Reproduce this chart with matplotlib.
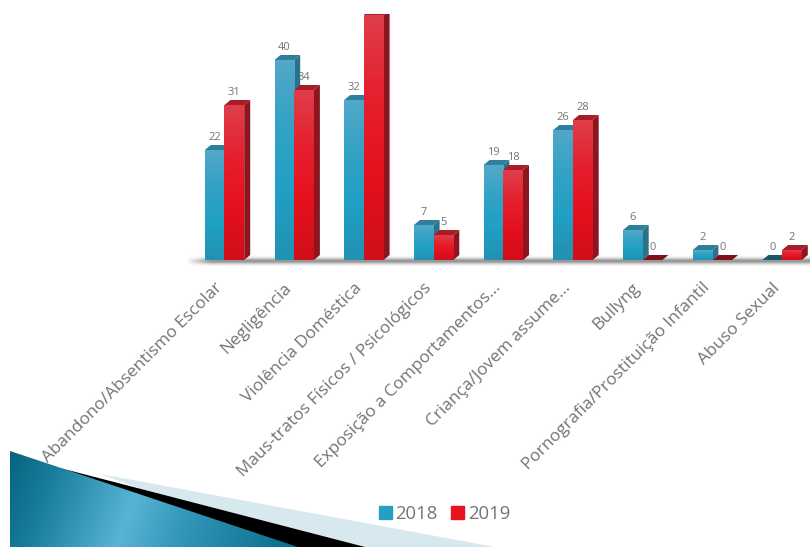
import matplotlib
matplotlib.use("Agg")
import matplotlib.pyplot as plt
import numpy as np
from matplotlib.colors import LinearSegmentedColormap
from matplotlib.patches import Patch, Polygon

categories = [
    "Abandono/Absentismo Escolar",
    "Negligência",
    "Violência Doméstica",
    "Maus-tratos Físicos / Psicológicos",
    "Exposição a Comportamentos...",
    "Criança/Jovem assume...",
    "Bullyng",
    "Pornografia/Prostituição Infantil",
    "Abuso Sexual",
]
years = ["2018", "2019"]
values_2018 = [22, 40, 32, 7, 19, 26, 6, 2, 0]
values_2019 = [31, 34, 49, 5, 18, 28, 0, 0, 2]

W, H = 810, 547
BASE_PX = 260      # row of the zero line
TOP_PX = 14        # the plot is cut off above this row
PX_PER_UNIT = 5.0
GROUP_PX = 69.7
FIRST_PX = 224.5   # centre of the first group
BAR_PX = 19.7
DX_PX, DY_PX = 6, 5

blue_cmap = LinearSegmentedColormap.from_list("b", ["#52A8C8", "#33A2C4", "#1FA0C4", "#2391B2"])
red_cmap = LinearSegmentedColormap.from_list("r", ["#DF3E4B", "#E5202E", "#E5101E", "#CF0F1A"])
styles = [
    {"cmap": blue_cmap, "side": "#2A7189", "top": "#2F7F9A", "flat": "#1C5566"},
    {"cmap": red_cmap, "side": "#8C1620", "top": "#A81C28", "flat": "#7E1018"},
]
TEXT = "#747474"

fig = plt.figure(figsize=(W / 100, H / 100), dpi=100)
plt.rcParams["font.family"] = ["Open Sans", "DejaVu Sans"]

# Background layer in pixel coordinates: floor shadow and corner wedge
bg = fig.add_axes([0, 0, 1, 1], zorder=0)
bg.set_xlim(0, W)
bg.set_ylim(H, 0)
bg.axis("off")

rows = np.linspace(-1, 1, 24)
cols = np.linspace(0, 1, 300)
shadow = np.zeros((24, 300, 4))
shadow[..., :3] = 0.4
shadow[..., 3] = np.exp(-(rows[:, None] * 2.3) ** 2) * np.clip(cols[None, :] * 25, 0, 1) * 0.7
bg.imshow(shadow, extent=(185, W, 268, 254), aspect="auto", interpolation="bilinear", zorder=1)

bg.add_patch(Polygon([(100, 474), (495, H), (300, H)], closed=True, fc="#D8E8EF", ec="none", zorder=2))
bg.add_patch(Polygon([(60, 468), (365, H), (290, H)], closed=True, fc="#000000", ec="none", zorder=3))

xx, yy = np.meshgrid(np.arange(10, 320), np.arange(450, H))
u = xx + 0.35 * (yy - 450)
stops = [10, 60, 150, 210, 320]
colours = np.array([[8, 100, 128], [24, 125, 155], [88, 180, 212], [50, 150, 185], [10, 110, 140]]) / 255
wedge = np.dstack([np.interp(u, stops, colours[:, k]) for k in range(3)])
wedge_im = bg.imshow(wedge, extent=(10, 320, H, 450), aspect="auto", zorder=4)
clip = Polygon([(10, 451), (298, H), (10, H)], closed=True, transform=bg.transData, fc="none", ec="none")
bg.add_patch(clip)
wedge_im.set_clip_path(clip)
bg.set_xlim(0, W)
bg.set_ylim(H, 0)

# Chart layer: x in category positions, y in case counts
ax = fig.add_axes([0, 0, 1, 1 - TOP_PX / H], zorder=1)
ax.patch.set_alpha(0)
ax.axis("off")

y_top = (BASE_PX - TOP_PX) / PX_PER_UNIT
bar_w = BAR_PX / GROUP_PX
dx = DX_PX / GROUP_PX
dy = DY_PX / PX_PER_UNIT
x = np.arange(len(categories))

z = 3
for i in x:
    for s, vals in enumerate([values_2018, values_2019]):
        v = vals[i]
        st = styles[s]
        left = i - bar_w if s == 0 else i
        right = left + bar_w
        if v == 0:
            ax.add_patch(Polygon([(left, 0), (right, 0), (right + dx, dy), (left + dx, dy)],
                                 closed=True, fc=st["flat"], ec="none", zorder=z))
        else:
            ax.add_patch(Polygon([(right, 0), (right + dx, dy), (right + dx, v + dy), (right, v)],
                                 closed=True, fc=st["side"], ec="none", zorder=z))
            ax.add_patch(Polygon([(left, v), (right, v), (right + dx, v + dy), (left + dx, v + dy)],
                                 closed=True, fc=st["top"], ec="none", zorder=z))
            bar = ax.bar(left, v, width=bar_w, align="edge", color="none", zorder=z + 0.5)[0]
            grad = np.linspace(0, 1, 64)[:, None]
            im = ax.imshow(grad, cmap=st["cmap"], extent=(left, right, 0, v), origin="upper",
                           aspect="auto", zorder=z + 0.6)
            im.set_clip_path(bar)
        z += 1
        # value labels sit behind the bars; the tallest bar runs past the top and has none
        if v + 2.4 < y_top:
            ax.text((left + right) / 2, v + 2.4, str(v), ha="center", va="center",
                    fontsize=8, color=TEXT, zorder=2)

for i, name in zip(x, categories):
    ax.text(i - 0.15, -4.0, name, rotation=45, rotation_mode="anchor", ha="right", va="top",
            fontsize=12.4, color=TEXT, zorder=2)

ax.set_xlim(-FIRST_PX / GROUP_PX, (W - FIRST_PX) / GROUP_PX)
ax.set_ylim(-(H - BASE_PX) / PX_PER_UNIT, y_top)

handles = [Patch(color="#25A0C2"), Patch(color="#E5141F")]
fig.legend(handles, years, loc="center left", bbox_to_anchor=(362 / W, 1 - 514 / H), ncols=2,
           frameon=False, handlelength=0.7, handleheight=0.7, handletextpad=0.2,
           columnspacing=0.75, fontsize=13.3, labelcolor=TEXT)

fig.savefig("out.png", dpi=100)
